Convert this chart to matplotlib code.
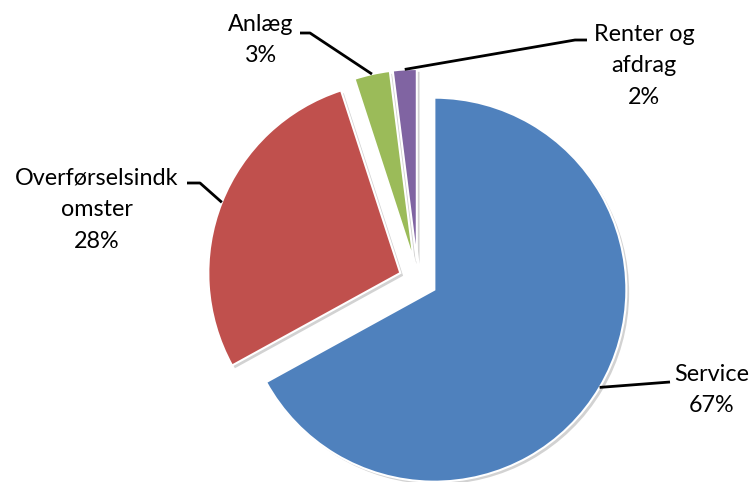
import numpy as np
import matplotlib
matplotlib.use('Agg')
import matplotlib.pyplot as plt
import matplotlib.patheffects as pe

# data
labels = ['Service', 'Overførselsindk\nomster', 'Anlæg', 'Renter og\nafdrag']
values = [67, 28, 3, 2]
colors = ['#4F81BD', '#C0504D', '#9BBB59', '#8064A2']

W, H = 754, 482
plt.rcParams['font.family'] = ['Lato', 'DejaVu Sans']

fig = plt.figure(figsize=(W / 100, H / 100), dpi=100)
ax = fig.add_axes([0, 0, 1, 1])

# pie centre / radius in pixel units (image y flipped)
cx, cy, R = 418, H - 280, 192
# explode in matplotlib is absolute (data units), here pixels
wedges, _ = ax.pie(values, colors=colors, startangle=90, counterclock=False,
                   explode=[19] * 4, radius=R, center=(cx, cy),
                   wedgeprops=dict(edgecolor='white', linewidth=1.5))
ax.set_xlim(0, W)
ax.set_ylim(0, H)
ax.set_aspect('equal')
ax.axis('off')

for w in wedges:
    w.set_path_effects([pe.SimplePatchShadow(offset=(2, -2), shadow_rgbFace='gray', alpha=0.35),
                        pe.Normal()])

# label block centres and leader elbow (image coords)
text_pos = [(712, 390), (97, 210), (261, 40), (644, 66)]
elbows = [[(670, 382)], [(200, 183), (187, 183)], [(310, 33), (300, 33)], [(575, 40), (587, 40)]]

for w, lab, v, tp, el in zip(wedges, labels, values, text_pos, elbows):
    mid = np.deg2rad((w.theta1 + w.theta2) / 2)
    ax0 = w.center[0] + w.r * np.cos(mid)
    ay0 = w.center[1] + w.r * np.sin(mid)
    xs = [ax0] + [p[0] for p in el]
    ys = [ay0] + [H - p[1] for p in el]
    ax.plot(xs, ys, color='black', linewidth=2, solid_capstyle='butt')
    ax.text(tp[0], H - tp[1], f'{lab}\n{v}%', ha='center', va='center',
            fontsize=16.8, linespacing=1.62, color='black')

fig.savefig('out.png', dpi=100)
